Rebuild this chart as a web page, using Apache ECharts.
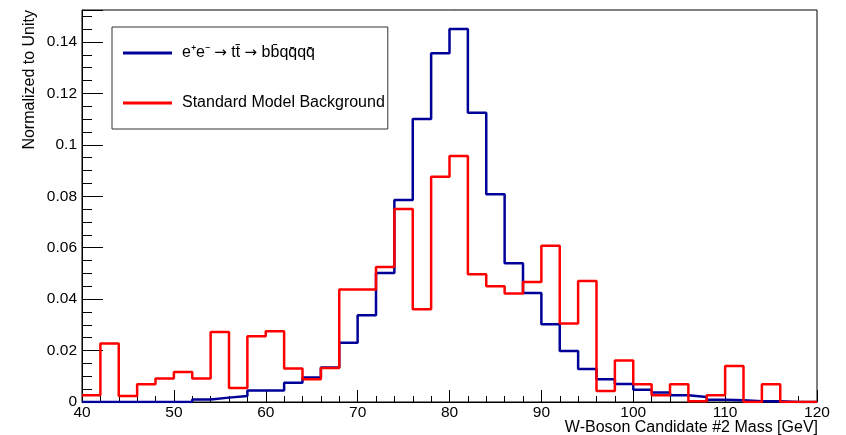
<!DOCTYPE html>
<html>
<head>
<meta charset="utf-8">
<script src="https://cdn.jsdelivr.net/npm/echarts@6/dist/echarts.min.js"></script>
<style>
  html, body { margin: 0; padding: 0; background: #fff; }
  #chart { width: 846px; height: 435px; }
</style>
</head>
<body>
<div id="chart"></div>
<script>
// bin low edges (GeV), 2 GeV wide bins
const binLow = [40, 42, 44, 46, 48, 50, 52, 54, 56, 58, 60, 62, 64, 66, 68, 70, 72, 74, 76, 78,
                80, 82, 84, 86, 88, 90, 92, 94, 96, 98, 100, 102, 104, 106, 108, 110, 112, 114, 116, 118];
const binHigh = 120;

const signal = [0, 0, 0, 0, 0, 0, 0.001, 0.0017, 0.0023, 0.0045, 0.0045, 0.0075, 0.0095, 0.0134, 0.023, 0.0337, 0.0502, 0.0785, 0.110, 0.1356,
                0.145, 0.1125, 0.0808, 0.0539, 0.0424, 0.0302, 0.0198, 0.0128, 0.0088, 0.0070, 0.0048, 0.0037, 0.0026, 0.0019, 0.0009, 0.0007, 0.0003, 0.0003, 0, 0];
const background = [0.0026, 0.0227, 0.0023, 0.0069, 0.0091, 0.0117, 0.0091, 0.0272, 0.0054, 0.0256, 0.0275, 0.013, 0.0088, 0.0132, 0.0437, 0.0437, 0.0525, 0.075, 0.0361, 0.0876,
                    0.0956, 0.0497, 0.045, 0.0422, 0.0467, 0.0607, 0.0305, 0.047, 0.0043, 0.0161, 0.0069, 0.0026, 0.0069, 0.0003, 0.0026, 0.014, 0, 0.0069, 0, 0];

const signalName = 'e⁺e⁻ → tt̄ → bb̄qq̄qq̄';
const bkgName = 'Standard Model Background';
const xTitle = 'W-Boson Candidate #2 Mass [GeV]';
const yTitle = 'Normalized to Unity';

const FONT = '"Liberation Sans", Arial, Helvetica, sans-serif';

// histogram outline: one point per bin low edge, plus closing point at the upper edge
function toSteps(vals) {
  const pts = binLow.map((x, i) => [x, vals[i]]);
  pts.push([binHigh, vals[vals.length - 1]]);
  return pts;
}

const chart = echarts.init(document.getElementById('chart'), null, { renderer: 'canvas' });

chart.setOption({
  backgroundColor: '#fff',
  animation: false,
  grid: {
    left: 82, right: 29, top: 10, bottom: 33,
    show: true, borderColor: '#000', borderWidth: 1, backgroundColor: 'transparent'
  },
  legend: {
    orient: 'vertical',
    left: 112, top: 27,
    padding: [18, 3, 18, 11],
    itemGap: 34,
    itemWidth: 49, itemHeight: 3,
    icon: 'rect',
    borderColor: '#333', borderWidth: 1,
    backgroundColor: '#fff',
    formatter: (name) => {
      // signal label gets a wider arrow glyph like the original
      if (name === signalName) {
        return '{t|e⁺e⁻ }{arr|→}{t| tt̄ }{arr|→}{t| bb̄qq̄qq̄}';
      }
      return '{t|' + name + '}';
    },
    textStyle: {
      fontFamily: FONT, fontSize: 16, color: '#000', padding: [0, 0, 0, 5],
      rich: {
        t: { fontFamily: FONT, fontSize: 16, color: '#000' },
        arr: { fontFamily: '"DejaVu Sans"', fontSize: 15, color: '#000' }
      }
    },
    data: [signalName, bkgName]
  },
  xAxis: {
    type: 'value',
    min: 40, max: 120, interval: 10,
    axisLine: { lineStyle: { color: '#000', width: 1 } },
    axisTick: { inside: true, length: 12, lineStyle: { color: '#000' } },
    minorTick: { show: true, splitNumber: 5, length: 6, lineStyle: { color: '#000' } },
    splitLine: { show: false },
    axisLabel: { color: '#000', fontFamily: FONT, fontSize: 15.5, margin: 3 }
  },
  yAxis: {
    type: 'value',
    min: 0, max: 0.1524, interval: 0.02,
    axisLine: { show: true, lineStyle: { color: '#000', width: 1 } },
    axisTick: { show: true, inside: true, length: 21, lineStyle: { color: '#000' } },
    minorTick: { show: true, splitNumber: 4, length: 10, lineStyle: { color: '#000' } },
    splitLine: { show: false },
    axisLabel: { color: '#000', fontFamily: FONT, fontSize: 15.5, margin: 5, showMaxLabel: false }
  },
  graphic: [
    {
      type: 'text', x: 818, y: 428,
      style: { text: xTitle, fontFamily: FONT, fontSize: 16, fill: '#000', align: 'right', verticalAlign: 'middle' }
    },
    {
      type: 'text', x: 30, y: 10, rotation: Math.PI / 2,
      style: { text: yTitle, fontFamily: FONT, fontSize: 16, fill: '#000', align: 'right', verticalAlign: 'middle' }
    }
  ],
  series: [
    {
      name: signalName,
      type: 'line',
      step: 'end',
      data: toSteps(signal),
      showSymbol: false,
      color: '#000099',
      lineStyle: { color: '#000099', width: 2.5 }
    },
    {
      name: bkgName,
      type: 'line',
      step: 'end',
      data: toSteps(background),
      showSymbol: false,
      color: '#ff0000',
      lineStyle: { color: '#ff0000', width: 2.5 }
    }
  ]
});
</script>
</body>
</html>
